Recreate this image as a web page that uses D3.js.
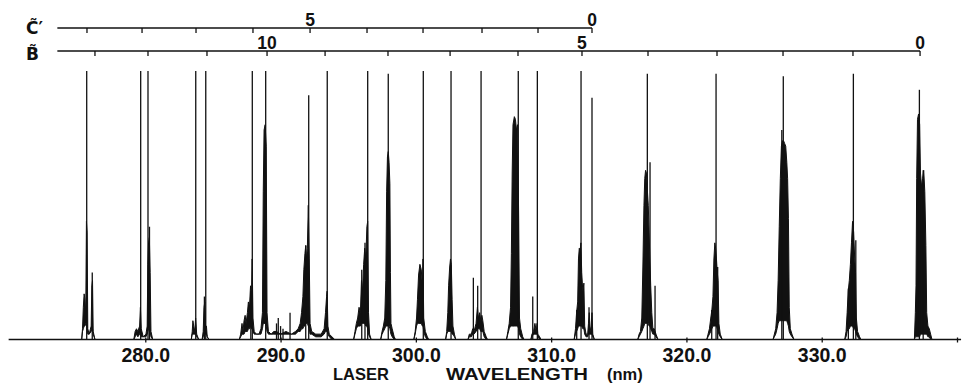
<!DOCTYPE html>
<html>
<head>
<meta charset="utf-8">
<script src="https://cdn.jsdelivr.net/npm/d3@7"></script>
<style>
  html, body { margin: 0; padding: 0; background: #fff; }
  svg { display: block; }
  text { font-family: "Liberation Sans", Arial, sans-serif; font-weight: bold; fill: #111; }
</style>
</head>
<body>
<div id="chart"></div>
<script>
// x axis
const tickValues = [280, 290, 300, 310, 320, 330, 340];
const tickLabels = ["280.0", "290.0", "300.0", "310.0", "320.0", "330.0", ""];
const axisExtent = [269.9, 340.3];
const axisTitle = ["LASER", "WAVELENGTH", "(nm)"];

// vibrational progressions (band origins, nm) and their quantum numbers
const progressionStart = 273.5;
const cTicks = [275.69, 279.76, 283.75, 287.96, 292.18, 296.39, 300.53, 304.89, 309.03, 313.02];
const cLevels = [9, 8, 7, 6, 5, 4, 3, 2, 1, 0];
const cLabelled = [5, 0];
const bTicks = [276.28, 280.20, 284.56, 289.00, 293.29, 297.94, 302.53, 307.55, 312.28, 317.16, 322.26, 327.14, 332.31, 337.27];
const bLevels = [13, 12, 11, 10, 9, 8, 7, 6, 5, 4, 3, 2, 1, 0];
const bLabelled = [10, 5, 0];

// sharp lines: [wavelength, relative intensity]
const sharpLines = [
  [275.67, 1.0], [276.08, 0.25],
  [279.66, 1.0], [280.20, 1.0], [280.31, 0.42],
  [283.73, 1.0], [284.47, 1.0], [284.37, 0.16],
  [287.80, 0.18], [287.91, 1.0], [288.90, 1.0],
  [289.70, 0.06], [289.83, 0.08], [290.00, 0.05], [290.18, 0.04], [290.70, 0.10],
  [291.86, 0.35], [292.08, 0.91], [293.45, 1.0],
  [296.00, 0.26], [296.24, 0.36], [296.44, 1.0],
  [297.96, 0.99],
  [300.55, 1.0],
  [302.60, 1.0],
  [304.25, 0.23], [304.57, 0.20], [304.82, 1.0],
  [307.57, 1.0],
  [308.64, 0.16], [308.98, 1.0],
  [311.89, 0.11], [312.21, 1.0], [312.80, 0.12], [313.02, 0.90],
  [317.11, 0.99], [317.31, 0.66], [317.68, 0.20],
  [321.87, 0.11], [322.19, 0.99], [322.31, 0.27],
  [327.05, 0.78], [327.16, 0.98],
  [331.97, 0.19], [332.34, 0.99], [332.52, 0.37],
  [337.22, 0.93], [337.50, 0.63]
];

// unresolved rotational structure: [wavelength, lower envelope, upper envelope]
const bandTraces = [
  [[275.30,0,0],[275.36,0.03,0.04],[275.42,0.04,0.12],[275.48,0.05,0.17],[275.54,0.05,0.15],[275.60,0.06,0.10],[275.65,0.06,0.44],[275.70,0.04,0.40],[275.75,0.02,0.04],[275.85,0.02,0.02],[276.00,0.03,0.05],[276.05,0.04,0.20],[276.10,0.04,0.22],[276.15,0.02,0.03],[276.28,0,0]],
  [[279.15,0,0],[279.25,0.01,0.03],[279.35,0.02,0.04],[279.45,0.01,0.03],[279.58,0.02,0.05],[279.64,0.03,0.12],[279.70,0.01,0.04],[279.85,0.01,0.01],[280.05,0.01,0.02],[280.14,0.02,0.05],[280.19,0.03,0.28],[280.24,0.04,0.36],[280.30,0.05,0.38],[280.36,0.03,0.25],[280.42,0.01,0.03],[280.55,0,0]],
  [[283.40,0,0],[283.47,0.02,0.03],[283.52,0.02,0.07],[283.58,0.02,0.05],[283.66,0.02,0.03],[283.72,0.02,0.08],[283.80,0.01,0.02],[283.95,0,0],[284.20,0,0],[284.28,0.01,0.03],[284.34,0.02,0.12],[284.40,0.02,0.14],[284.45,0.02,0.05],[284.52,0.02,0.05],[284.58,0.01,0.01],[284.70,0,0]],
  [[286.95,0,0],[287.05,0.01,0.02],[287.15,0.02,0.06],[287.22,0.02,0.03],[287.30,0.02,0.07],[287.38,0.03,0.09],[287.45,0.03,0.06],[287.55,0.03,0.10],[287.62,0.04,0.14],[287.70,0.04,0.12],[287.78,0.05,0.20],[287.84,0.04,0.14],[287.90,0.04,0.30],[287.96,0.03,0.08],[288.05,0.02,0.03],[288.20,0.02,0.02],[288.40,0.02,0.02],[288.55,0.02,0.04],[288.66,0.04,0.10],[288.72,0.06,0.55],[288.78,0.06,0.78],[288.86,0.06,0.80],[288.94,0.05,0.72],[289.00,0.03,0.10],[289.10,0.02,0.03],[289.30,0.02,0.02],[289.50,0.02,0.03],[289.70,0.02,0.03],[290.00,0.02,0.02],[290.40,0.02,0.03],[290.80,0.02,0.02],[291.10,0.02,0.03],
   [291.30,0.03,0.04],[291.45,0.03,0.06],[291.55,0.04,0.10],[291.65,0.04,0.16],[291.72,0.05,0.26],[291.80,0.05,0.32],[291.86,0.06,0.35],[291.92,0.06,0.30],[291.98,0.06,0.34],[292.05,0.05,0.50],[292.12,0.04,0.30],[292.18,0.02,0.06],[292.30,0.02,0.03],[292.60,0.01,0.02],[293.00,0.01,0.02],[293.22,0.02,0.04],[293.32,0.03,0.10],[293.40,0.03,0.16],[293.44,0.03,0.18],[293.50,0.02,0.05],[293.60,0.01,0.02],[293.80,0,0.01],[294.00,0,0]],
  [[295.40,0,0],[295.50,0.02,0.03],[295.60,0.04,0.06],[295.70,0.05,0.08],[295.80,0.05,0.12],[295.90,0.05,0.10],[295.98,0.06,0.22],[296.06,0.06,0.18],[296.14,0.06,0.28],[296.22,0.06,0.34],[296.30,0.05,0.30],[296.38,0.05,0.42],[296.44,0.04,0.44],[296.50,0.02,0.10],[296.58,0.01,0.02],[296.70,0,0]],
  [[297.40,0,0],[297.50,0.02,0.03],[297.60,0.03,0.05],[297.70,0.04,0.08],[297.78,0.05,0.22],[297.84,0.05,0.55],[297.90,0.05,0.68],[297.96,0.05,0.70],[298.02,0.05,0.66],[298.08,0.04,0.58],[298.12,0.03,0.25],[298.16,0.02,0.06],[298.25,0.01,0.04],[298.40,0,0.01],[298.50,0,0]],
  [[299.85,0,0],[299.95,0.02,0.03],[300.05,0.05,0.08],[300.12,0.06,0.15],[300.20,0.06,0.24],[300.30,0.06,0.28],[300.40,0.06,0.26],[300.48,0.05,0.20],[300.53,0.05,0.30],[300.58,0.03,0.08],[300.70,0.01,0.03],[300.85,0,0.01],[300.95,0,0]],
  [[302.20,0,0],[302.28,0.02,0.03],[302.36,0.03,0.10],[302.42,0.03,0.20],[302.50,0.03,0.27],[302.56,0.03,0.30],[302.62,0.03,0.28],[302.68,0.02,0.15],[302.74,0.02,0.05],[302.85,0.01,0.02],[302.95,0,0]],
  [[303.85,0,0],[303.95,0.01,0.02],[304.10,0.01,0.02],[304.20,0.02,0.04],[304.30,0.02,0.03],[304.45,0.03,0.06],[304.55,0.04,0.12],[304.62,0.04,0.08],[304.72,0.04,0.10],[304.80,0.03,0.07],[304.88,0.03,0.09],[304.95,0.03,0.07],[305.05,0.01,0.03],[305.20,0,0.01],[305.30,0,0]],
  [[306.70,0,0],[306.80,0.02,0.03],[306.90,0.04,0.06],[307.00,0.05,0.12],[307.06,0.05,0.32],[307.12,0.05,0.62],[307.18,0.05,0.80],[307.28,0.05,0.83],[307.36,0.05,0.82],[307.44,0.05,0.78],[307.52,0.05,0.80],[307.60,0.04,0.45],[307.66,0.02,0.08],[307.75,0.01,0.04],[307.90,0,0.01],[308.00,0,0]],
  [[308.50,0,0],[308.58,0.01,0.02],[308.70,0.02,0.03],[308.80,0.02,0.06],[308.90,0.02,0.03],[308.96,0.02,0.06],[309.02,0.01,0.02],[309.15,0,0.01],[309.25,0,0]],
  [[311.70,0,0],[311.80,0.02,0.04],[311.88,0.03,0.10],[311.96,0.04,0.14],[312.02,0.05,0.30],[312.08,0.05,0.34],[312.14,0.05,0.33],[312.20,0.05,0.36],[312.26,0.05,0.25],[312.34,0.04,0.18],[312.42,0.04,0.21],[312.48,0.02,0.05],[312.58,0.01,0.02],[312.70,0.01,0.02],[312.76,0.02,0.06],[312.82,0.02,0.10],[312.88,0.02,0.03],[312.96,0.02,0.05],[313.02,0.02,0.10],[313.08,0.01,0.02],[313.20,0,0]],
  [[316.40,0,0],[316.50,0.01,0.02],[316.60,0.02,0.03],[316.70,0.03,0.08],[316.78,0.04,0.27],[316.86,0.05,0.50],[316.92,0.06,0.60],[316.98,0.06,0.63],[317.04,0.06,0.62],[317.12,0.06,0.55],[317.18,0.06,0.50],[317.24,0.05,0.40],[317.30,0.05,0.30],[317.36,0.04,0.20],[317.44,0.03,0.10],[317.52,0.02,0.04],[317.62,0.02,0.04],[317.75,0.01,0.02],[317.90,0,0]],
  [[321.50,0,0],[321.60,0.01,0.02],[321.70,0.02,0.04],[321.80,0.03,0.08],[321.88,0.04,0.11],[321.96,0.05,0.16],[322.03,0.05,0.30],[322.10,0.05,0.36],[322.16,0.05,0.34],[322.22,0.05,0.30],[322.28,0.04,0.25],[322.34,0.03,0.22],[322.40,0.02,0.06],[322.50,0.01,0.02],[322.65,0,0]],
  [[326.40,0,0],[326.50,0.01,0.02],[326.60,0.02,0.04],[326.70,0.04,0.10],[326.78,0.06,0.22],[326.86,0.07,0.42],[326.94,0.07,0.60],[327.02,0.07,0.72],[327.10,0.07,0.74],[327.18,0.07,0.74],[327.26,0.07,0.73],[327.34,0.07,0.72],[327.42,0.07,0.66],[327.48,0.06,0.60],[327.54,0.05,0.45],[327.60,0.03,0.12],[327.68,0.02,0.04],[327.80,0.01,0.02],[327.95,0,0]],
  [[331.70,0,0],[331.80,0.01,0.03],[331.88,0.03,0.10],[331.96,0.04,0.18],[332.04,0.04,0.22],[332.12,0.05,0.28],[332.20,0.05,0.36],[332.28,0.05,0.44],[332.36,0.04,0.40],[332.44,0.04,0.30],[332.50,0.03,0.25],[332.56,0.02,0.08],[332.65,0.01,0.03],[332.80,0,0.01],[332.90,0,0]],
  [[336.85,0,0],[336.92,0.01,0.10],[336.97,0.01,0.20],[337.02,0.01,0.60],[337.08,0.01,0.82],[337.16,0.01,0.84],[337.24,0.01,0.80],[337.30,0.02,0.62],[337.38,0.02,0.57],[337.46,0.02,0.60],[337.54,0.02,0.63],[337.62,0.02,0.55],[337.70,0.02,0.35],[337.76,0.02,0.10],[337.85,0.01,0.05],[337.95,0.01,0.04],[338.05,0,0.02],[338.15,0,0]]
];

const width = 966, height = 391;

const svg = d3.select("#chart")
  .append("svg")
  .attr("width", width)
  .attr("height", height)
  .attr("viewBox", [0, 0, width, height]);

const x = d3.scaleLinear().domain([270, 340]).range([10, 957]);
const y = d3.scaleLinear().domain([0, 1]).range([339.5, 71]);

// spectrum
const band = d3.area()
  .x(d => x(d[0]))
  .y0(d => y(d[1]))
  .y1(d => y(d[2]));

svg.append("g")
  .selectAll("path")
  .data(bandTraces)
  .join("path")
  .attr("d", band)
  .attr("fill", "#111")
  .attr("stroke", "#111")
  .attr("stroke-width", 1)
  .attr("stroke-linejoin", "round");

svg.append("g")
  .selectAll("line")
  .data(sharpLines)
  .join("line")
  .attr("x1", d => x(d[0]))
  .attr("x2", d => x(d[0]))
  .attr("y1", y(0))
  .attr("y2", d => y(d[1]))
  .attr("stroke", "#111")
  .attr("stroke-width", 1.3);

// baseline + wavelength axis
svg.append("line")
  .attr("x1", x(axisExtent[0]))
  .attr("x2", x(axisExtent[1]))
  .attr("y1", y(0))
  .attr("y2", y(0))
  .attr("stroke", "#111")
  .attr("stroke-width", 1.6);

const axis = svg.append("g")
  .attr("transform", `translate(0,${y(0)})`)
  .call(d3.axisBottom(x)
    .tickValues(tickValues)
    .tickFormat((d, i) => tickLabels[i])
    .tickSize(3));

axis.select(".domain").remove();
axis.selectAll(".tick line").attr("stroke", "#111").attr("stroke-width", 1.3).attr("y1", -2);
axis.selectAll(".tick text")
  .attr("y", 22)
  .attr("dy", 0)
  .style("font-family", '"Liberation Sans", Arial, sans-serif')
  .style("font-weight", "bold")
  .style("font-size", "19.5px")
  .attr("fill", "#111");

const title = svg.append("text")
  .attr("y", 379.5)
  .style("font-size", "16.5px");
title.append("tspan").attr("x", 333).text(axisTitle[0]);
title.append("tspan").attr("x", 446)
  .attr("textLength", 142)
  .attr("lengthAdjust", "spacingAndGlyphs")
  .text(axisTitle[1]);
title.append("tspan").attr("x", 607).text(axisTitle[2]);

// progression bars
function progression(name, ticks, levels, labelled, lineY, nameY) {
  const g = svg.append("g");
  g.append("line")
    .attr("x1", x(progressionStart))
    .attr("x2", x(ticks[ticks.length - 1]))
    .attr("y1", lineY)
    .attr("y2", lineY)
    .attr("stroke", "#111")
    .attr("stroke-width", 1.3);

  g.selectAll("line.tk")
    .data(ticks)
    .join("line")
    .attr("class", "tk")
    .attr("x1", d => x(d))
    .attr("x2", d => x(d))
    .attr("y1", lineY)
    .attr("y2", lineY + 5)
    .attr("stroke", "#111")
    .attr("stroke-width", 1.3);

  const nums = levels.map((v, i) => ({ v: v, w: ticks[i] })).filter(d => labelled.includes(d.v));
  g.selectAll("text.num")
    .data(nums)
    .join("text")
    .attr("class", "num")
    .attr("x", d => x(d.w))
    .attr("y", lineY - 2)
    .attr("text-anchor", "middle")
    .style("font-size", "17.5px")
    .text(d => d.v);

  g.append("text")
    .attr("x", 26)
    .attr("y", nameY)
    .style("font-family", '"DejaVu Sans", sans-serif')
    .style("font-size", "17px")
    .text(name);
}

progression("C\u0303\u2032", cTicks, cLevels, cLabelled, 28, 34);
progression("B\u0303", bTicks, bLevels, bLabelled, 51, 60);
</script>
</body>
</html>
